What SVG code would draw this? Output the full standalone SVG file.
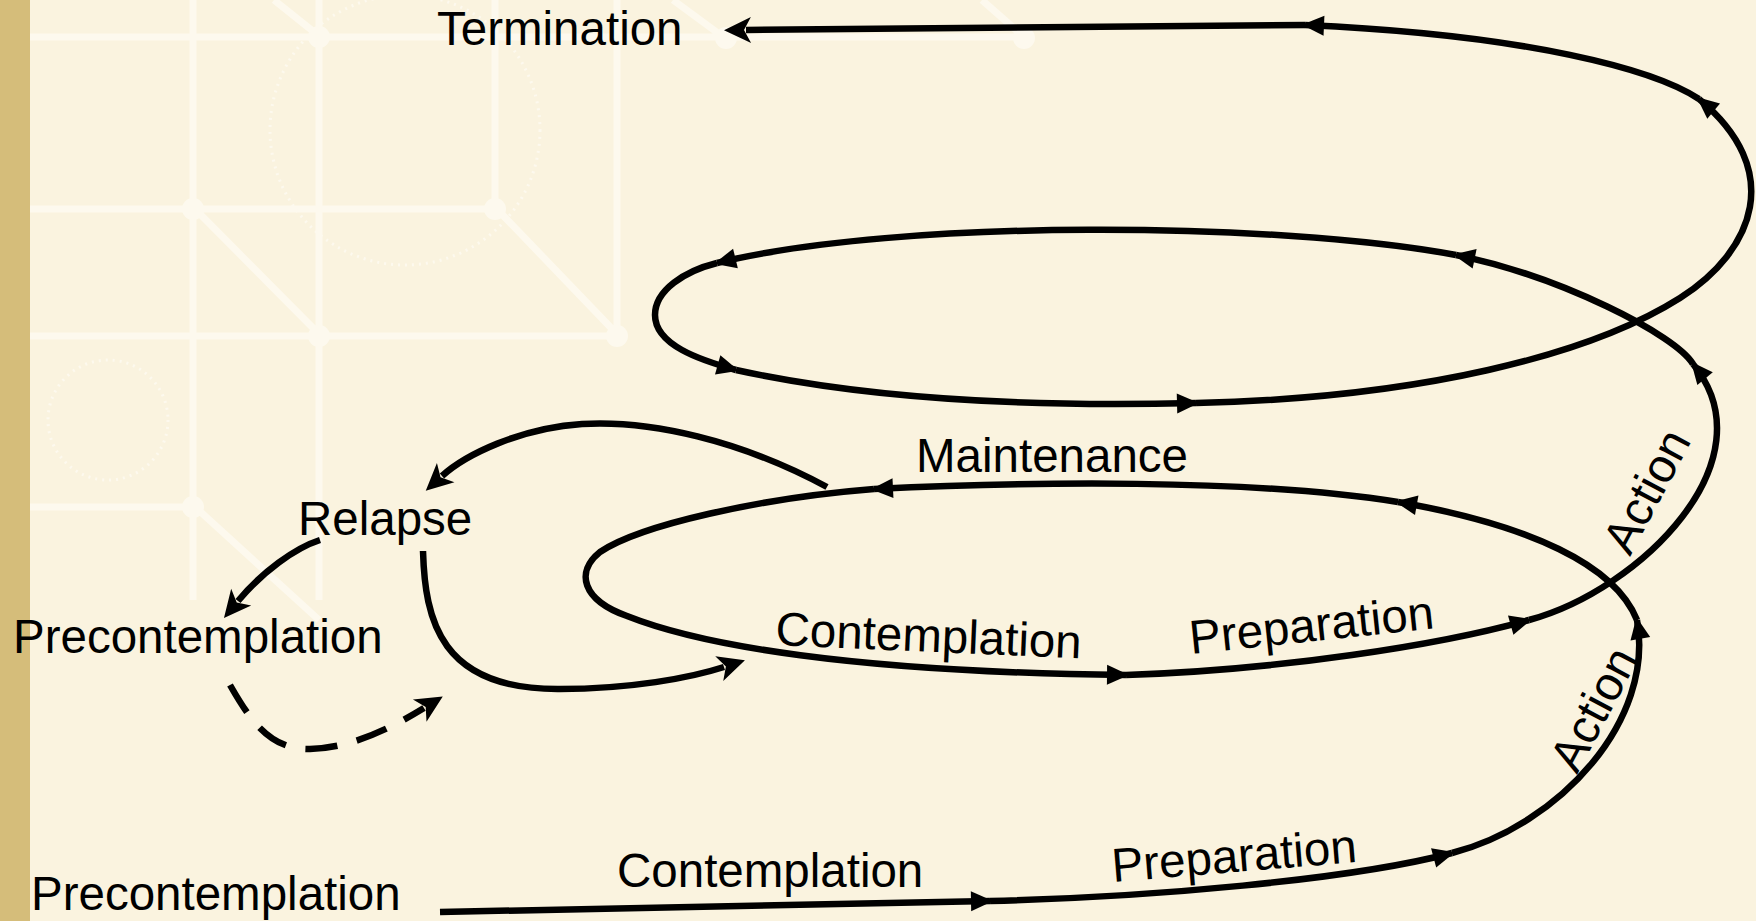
<svg xmlns="http://www.w3.org/2000/svg" width="1756" height="921" viewBox="0 0 1756 921">
<style>
.bgl{stroke:#FDF9EE;stroke-width:7;fill:none}
.bgn{fill:#FDF9EE}
.dot{stroke:#FDF9EE;stroke-width:3;fill:none;stroke-dasharray:2 5}
.ln{stroke:#000;stroke-width:6.5;fill:none;stroke-linecap:butt;stroke-linejoin:round}
.lbl{font-family:"Liberation Sans",Arial,sans-serif;font-size:47.5px;fill:#000}
</style>
<defs>
<marker id="mid" viewBox="-24 -13 30 26" markerWidth="30" markerHeight="26" refX="0" refY="0" orient="auto" markerUnits="userSpaceOnUse">
<path d="M3,0 L-19,-10 L-19,10 Z" fill="#000"/>
</marker>
<marker id="big" viewBox="-2 -16 34 32" markerWidth="34" markerHeight="32" refX="5" refY="0" orient="auto" markerUnits="userSpaceOnUse">
<path d="M27,0 L0,-13 L7,0 L0,13 Z" fill="#000"/>
</marker>
</defs>
<rect x="0" y="0" width="1756" height="921" fill="#FAF3DF"/>
<rect x="0" y="0" width="30" height="921" fill="#D5BD7A"/>
<g id="background-pattern">
<path class="bgl" d="M30 37 H1024 M30 209 H495 M30 336 H617 M30 507 H193 M193 0 V600 M319 0 V600 M495 0 V207 M617 0 V334 M193 207 L319 334 M495 207 L617 334 M193 505 L319 620 M274 0 L319 36 M673 0 L726 39 M982 0 L1024 37"/>
<circle class="bgn" cx="319" cy="37" r="11"/>
<circle class="bgn" cx="193" cy="209" r="11"/>
<circle class="bgn" cx="495" cy="209" r="11"/>
<circle class="bgn" cx="319" cy="336" r="11"/>
<circle class="bgn" cx="617" cy="336" r="11"/>
<circle class="bgn" cx="193" cy="507" r="11"/>
<circle class="bgn" cx="726" cy="38" r="11"/>
<circle class="bgn" cx="1024" cy="38" r="11"/>
<circle class="dot" cx="405" cy="130" r="135"/>
<circle class="dot" cx="108" cy="420" r="60"/>
</g>
<g id="connectors">
<path class="ln" marker-end="url(#mid)" d="M440 912 C 640 908, 820 904, 990 901"/>
<path class="ln" marker-end="url(#mid)" d="M990 901 C 1150 897, 1350 880, 1452 853"/>
<path class="ln" marker-end="url(#mid)" d="M1452 853 C 1560 825, 1655 720, 1637 620"/>
<path class="ln" marker-end="url(#mid)" d="M1637 620 C 1615 565, 1530 525, 1398 502"/>
<path class="ln" marker-end="url(#mid)" d="M1398 502 C 1250 478, 1024 482, 874 489"/>
<path class="ln" marker-end="url(#mid)" d="M874 489 C 760 498, 640 525, 600 552 C 575 572, 582 600, 627 616 C 700 645, 850 672, 1126 675"/>
<path class="ln" marker-end="url(#mid)" d="M1126 675 C 1280 670, 1440 645, 1529 620"/>
<path class="ln" marker-end="url(#mid)" d="M1529 620 C 1640 590, 1772 460, 1693 364"/>
<path class="ln" marker-end="url(#mid)" d="M1693 364 C 1676 335, 1560 276, 1456 255"/>
<path class="ln" marker-end="url(#mid)" d="M1456 255 C 1280 222, 900 218, 717 263"/>
<path class="ln" marker-end="url(#mid)" d="M717 263 C 685 271, 655 290, 655 315 C 655 345, 700 360, 736 370"/>
<path class="ln" marker-end="url(#mid)" d="M736 370 C 850 395, 1000 408, 1196 403"/>
<path class="ln" marker-end="url(#mid)" d="M1196 403 C 1420 398, 1590 355, 1680 298 C 1755 250, 1785 170, 1699 99"/>
<path class="ln" marker-end="url(#mid)" d="M1699 99 C 1655 70, 1530 35, 1305 25"/>
<path class="ln" marker-end="url(#big)" d="M1305 25 L 746 30"/>
<path class="ln" marker-end="url(#big)" d="M827 487 C 740 440, 650 420, 582 424 C 520 428, 465 455, 442 476"/>
<path class="ln" marker-end="url(#big)" d="M320 540 C 295 548, 262 572, 238 601"/>
<path class="ln" marker-end="url(#big)" d="M423 551 C 425 620, 440 690, 560 689 C 630 689, 690 678, 724 667"/>
<path class="ln" stroke-dasharray="32 20" marker-end="url(#big)" d="M230 685 C 250 720, 270 750, 310 749 C 350 748, 388 730, 424 708"/>
</g>
<g id="node-termination"><text class="lbl" x="437" y="45">Termination</text></g>
<g id="node-maintenance"><text class="lbl" x="916" y="472">Maintenance</text></g>
<g id="node-relapse"><text class="lbl" x="298" y="535">Relapse</text></g>
<g id="node-precontemplation-2"><text class="lbl" x="13" y="653">Precontemplation</text></g>
<g id="node-contemplation-2"><text class="lbl" x="775" y="645" transform="rotate(2.5 775 645)">Contemplation</text></g>
<g id="node-preparation-2"><text class="lbl" x="1191" y="654" transform="rotate(-6 1191 654)">Preparation</text></g>
<g id="node-action-2"><text class="lbl" x="1630" y="557" transform="rotate(-62 1630 557)">Action</text></g>
<g id="node-action-1"><text class="lbl" x="1577" y="775" transform="rotate(-62 1577 775)">Action</text></g>
<g id="node-precontemplation-1"><text class="lbl" x="31" y="910">Precontemplation</text></g>
<g id="node-contemplation-1"><text class="lbl" x="617" y="887">Contemplation</text></g>
<g id="node-preparation-1"><text class="lbl" x="1113" y="882" transform="rotate(-4.7 1113 882)">Preparation</text></g>
</svg>
